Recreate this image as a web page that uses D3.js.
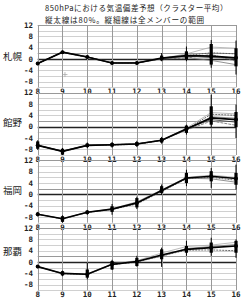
<!DOCTYPE html>
<html><head><meta charset="utf-8">
<script src="https://cdn.jsdelivr.net/npm/d3@7"></script>
<style>
html,body{margin:0;padding:0;background:#fff;}
svg{display:block;}
</style></head>
<body>
<script>
// ---- data ----
const categories = [8, 9, 10, 11, 12, 13, 14, 15, 16];
const stations = ["札幌", "館野", "福岡", "那覇"];
const yTicks = [12, 8, 4, 0, -4, -8];
const titleLines = ["850hPaにおける気温偏差予想（クラスター平均）", "縦太線は80%。縦細線は全メンバーの範囲"];

// main (thick) cluster-mean line per station
const meanSapporo = [-1.6, 2.4, 0.7, -1.4, -1.4, 0.3, 1.2, 1.0, 0.4];
const meanTateno  = [-6.6, -8.7, -6.6, -6.4, -6.1, -4.8, -0.8, 3.1, 2.5];
const meanFukuoka = [-7.0, -8.6, -6.3, -5.2, -3.0, 1.4, 5.8, 6.4, 5.6];
const meanNaha    = [-1.6, -4.0, -4.3, -0.8, 0.2, 2.5, 4.5, 5.1, 5.7];

// other cluster lines per station
const clustersSapporo = [
  [-1.6, 2.4, 0.7, -1.3, -1.3, 0.2, 1.8, 4.2, 3.8],
  [-1.6, 2.3, 0.6, -1.4, -1.5, 0.3, 1.2, 2.2, 1.8],
  [-1.6, 2.4, 0.7, -1.5, -1.4, 0.1, 0.5, -0.5, -2.0],
  [-1.6, 2.4, 0.8, -1.4, -1.3, 0.2, 1.0, 0.5, 0.3],
  [-1.6, 2.5, 0.7, -1.4, -1.4, 0.0, 0.3, 1.6, -0.8]
];
const clustersTateno = [
  [-6.6, -8.6, -6.5, -6.3, -6.0, -4.7, -0.5, 5.0, 4.5],
  [-6.6, -8.8, -6.7, -6.5, -6.2, -4.9, -0.9, 4.4, 4.0],
  [-6.6, -8.7, -6.6, -6.4, -6.1, -4.8, -1.1, 3.5, 3.0],
  [-6.6, -8.7, -6.6, -6.4, -6.1, -4.8, -0.7, 2.5, 1.6],
  [-6.6, -8.6, -6.6, -6.3, -6.1, -4.8, -1.2, 2.0, 0.5]
];
const clustersFukuoka = [
  [-7.0, -8.6, -6.3, -5.1, -2.6, 1.6, 6.0, 6.8, 6.0],
  [-7.0, -8.7, -6.4, -5.3, -3.4, 1.0, 5.5, 6.0, 5.0],
  [-7.0, -8.6, -6.3, -5.2, -3.1, 1.3, 5.7, 5.5, 4.3]
];
const clustersNaha = [
  [-1.6, -4.0, -4.2, -0.6, 0.5, 3.2, 5.5, 6.0, 7.0],
  [-1.6, -4.1, -4.4, -0.9, 0.0, 2.2, 4.2, 4.3, 4.0],
  [-1.6, -4.0, -4.3, -0.8, 0.3, 2.0, 4.8, 5.5, 6.2]
];

// 80% range (thick bars): low, high
const bar80LowSapporo  = [-2.0, 2.0, 0.3, -1.7, -1.7, -0.5, -0.2, -2.0, -2.6];
const bar80HighSapporo = [-1.2, 2.8, 1.1, -1.1, -1.1, 1.2, 2.7, 5.3, 3.8];
const bar80LowTateno   = [-7.8, -9.9, -7.2, -7.0, -6.8, -5.6, -2.2, 0.7, -0.2];
const bar80HighTateno  = [-5.2, -7.8, -6.0, -5.8, -5.4, -4.0, 0.4, 7.2, 5.2];
const bar80LowFukuoka  = [-7.5, -9.7, -6.8, -6.2, -4.6, 0.5, 4.0, 4.6, 3.4];
const bar80HighFukuoka = [-6.5, -7.7, -5.8, -4.2, -1.3, 2.9, 7.6, 8.2, 7.6];
const bar80LowNaha     = [-2.0, -4.7, -5.5, -2.6, -1.4, 1.0, 3.3, 3.3, 3.3];
const bar80HighNaha    = [-1.2, -3.2, -2.6, 0.4, 1.5, 4.5, 5.7, 6.9, 7.5];

// full member range (thin bars): low, high
const rangeLowSapporo  = [-2.2, 1.8, 0.0, -2.0, -2.0, -0.8, -0.8, -3.1, -5.5];
const rangeHighSapporo = [-1.0, 3.0, 1.4, -0.8, -0.8, 2.1, 4.4, 6.7, 6.5];
const rangeLowTateno   = [-8.2, -10.0, -7.6, -7.4, -7.2, -6.0, -2.8, -0.5, -4.0];
const rangeHighTateno  = [-4.8, -7.5, -5.6, -5.4, -5.0, -3.6, 0.7, 11.3, 7.8];
const rangeLowFukuoka  = [-7.8, -10.0, -7.2, -7.2, -5.2, -0.2, 2.9, 2.3, 1.7];
const rangeHighFukuoka = [-6.2, -7.4, -5.5, -3.4, -0.8, 3.5, 8.7, 9.3, 10.5];
const rangeLowNaha     = [-2.2, -5.0, -6.1, -2.8, -1.6, -1.7, 2.2, 2.2, 1.5];
const rangeHighNaha    = [-1.0, -3.0, -0.2, 0.8, 2.2, 5.1, 7.5, 8.6, 8.0];

// stray marker seen in the Sapporo panel
const strayMarkX = [9.1];
const strayMarkY = [-5.5];

const stationData = [
  {name: stations[0], mean: meanSapporo, clusters: clustersSapporo, b80l: bar80LowSapporo, b80h: bar80HighSapporo, rl: rangeLowSapporo, rh: rangeHighSapporo, labelVal: 0.8},
  {name: stations[1], mean: meanTateno,  clusters: clustersTateno,  b80l: bar80LowTateno,  b80h: bar80HighTateno,  rl: rangeLowTateno,  rh: rangeHighTateno, labelVal: 1.4},
  {name: stations[2], mean: meanFukuoka, clusters: clustersFukuoka, b80l: bar80LowFukuoka, b80h: bar80HighFukuoka, rl: rangeLowFukuoka, rh: rangeHighFukuoka, labelVal: 1.2},
  {name: stations[3], mean: meanNaha,    clusters: clustersNaha,    b80l: bar80LowNaha,    b80h: bar80HighNaha,    rl: rangeLowNaha,    rh: rangeHighNaha, labelVal: 3.5}
];

// ---- layout ----
const W = 246, H = 300;
const x0 = 37.7, x1 = 236;
const panelTop0 = 25, panelStep = 67.7, panelH = 62.3;
const titleWidths = [183, 160];
const titleBaselines = [11.2, 22.5];
const clusterStyles = [
  {c: "#aaa", d: null},
  {c: "#444", d: "2,1"},
  {c: "#777", d: null},
  {c: "#333", d: null},
  {c: "#666", d: "3,1"}
];

const svg = d3.select("body").append("svg").attr("width", W).attr("height", H);

svg.selectAll("text.title").data(titleLines).join("text")
  .attr("class", "title")
  .attr("x", 45).attr("y", (d, i) => titleBaselines[i])
  .attr("font-family", "'Noto Sans CJK JP', sans-serif")
  .attr("font-size", 7.6).attr("fill", "#222")
  .text(d => d)
  .each(function(d, i) {
    const natural = this.getComputedTextLength();
    const n = Array.from(d).length;
    const ls = Math.max(0, (titleWidths[i] - natural) / n);
    d3.select(this).attr("letter-spacing", ls.toFixed(2));
  });

const x = d3.scaleLinear().domain([d3.min(categories), d3.max(categories)]).range([x0, x1]);
const gridVals = d3.range(-10, 12.1, 2);

stationData.forEach((s, i) => {
  const top = panelTop0 + i * panelStep;
  const y = d3.scaleLinear().domain([-10, 12]).range([top + panelH, top]);
  const g = svg.append("g");

  // horizontal grid
  g.selectAll("line.hg").data(gridVals).join("line")
    .attr("x1", x0).attr("x2", x1)
    .attr("y1", d => Math.round(y(d)) + 0.5).attr("y2", d => Math.round(y(d)) + 0.5)
    .attr("stroke", d => d === 0 ? "#222" : (d === 2 || d === 12 ? "#999" : "#d0d0d0"))
    .attr("stroke-width", d => d === 0 ? 1.3 : 1);

  // vertical grid
  g.selectAll("line.vg").data(categories).join("line")
    .attr("x1", d => Math.round(x(d)) + 0.5).attr("x2", d => Math.round(x(d)) + 0.5)
    .attr("y1", y(12)).attr("y2", y(-10))
    .attr("stroke", "#999").attr("stroke-width", 1);

  // y tick labels
  g.selectAll("text.yt").data(yTicks).join("text")
    .attr("x", 33).attr("y", d => y(d)).attr("dy", "0.35em")
    .attr("text-anchor", "end")
    .attr("font-family", "'DejaVu Sans Mono', monospace").attr("font-weight", "bold")
    .attr("font-size", 7.5).attr("fill", "#222")
    .text(d => d);

  // x tick labels below panel
  g.selectAll("text.xt").data(categories).join("text")
    .attr("x", d => x(d)).attr("y", y(-10) + 7)
    .attr("text-anchor", "middle")
    .attr("font-family", "'DejaVu Sans Mono', monospace").attr("font-weight", "bold")
    .attr("font-size", 7.5).attr("fill", "#222")
    .text(d => d);

  // station label
  g.append("text")
    .attr("x", 3).attr("y", y(s.labelVal)).attr("dy", "0.35em")
    .attr("font-family", "'Noto Sans CJK JP', sans-serif")
    .attr("font-size", 9.5).attr("fill", "#222")
    .text(s.name);

  const line = d3.line().x((d, k) => x(categories[k])).y(d => y(d));

  // cluster lines
  s.clusters.forEach((c, k) => {
    const st = clusterStyles[k % clusterStyles.length];
    g.append("path").attr("d", line(c)).attr("fill", "none")
      .attr("stroke", st.c).attr("stroke-width", 0.8)
      .attr("stroke-dasharray", st.d);
  });

  // full range thin bars
  g.selectAll("line.rg").data(categories).join("line")
    .attr("x1", d => x(d)).attr("x2", d => x(d))
    .attr("y1", (d, k) => y(s.rl[k])).attr("y2", (d, k) => y(s.rh[k]))
    .attr("stroke", "#000").attr("stroke-width", 1);

  // 80% thick bars
  g.selectAll("line.b80").data(categories).join("line")
    .attr("x1", d => x(d)).attr("x2", d => x(d))
    .attr("y1", (d, k) => y(s.b80l[k])).attr("y2", (d, k) => y(s.b80h[k]))
    .attr("stroke", "#000").attr("stroke-width", 3.2);

  // main line
  g.append("path").attr("d", line(s.mean)).attr("fill", "none")
    .attr("stroke", "#000").attr("stroke-width", 1.6);

  g.selectAll("circle.m").data(s.mean).join("circle")
    .attr("cx", (d, k) => x(categories[k])).attr("cy", d => y(d)).attr("r", 2)
    .attr("fill", "#000");

  if (i === 0) {
    strayMarkX.forEach((mx, k) => {
      const px = x(mx), py = y(strayMarkY[k]);
      g.append("path").attr("d", `M${px - 2.5},${py}H${px + 2.5}M${px},${py - 2.5}V${py + 2.5}`)
        .attr("stroke", "#aaa").attr("stroke-width", 0.8);
    });
  }
});
</script>
</body></html>
